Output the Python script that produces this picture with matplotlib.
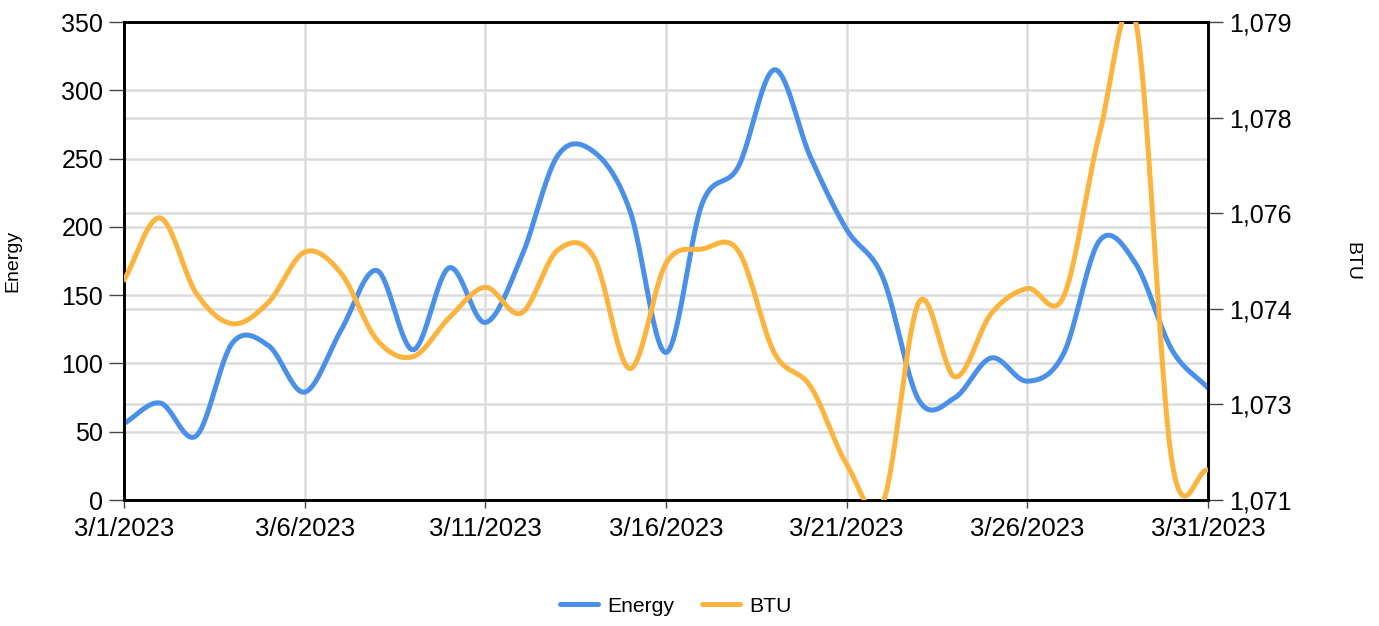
import numpy as np
import pandas as pd
import matplotlib
matplotlib.use("Agg")
import matplotlib.pyplot as plt
import matplotlib.dates as mdates
from matplotlib.ticker import FixedLocator, FixedFormatter, FuncFormatter

plt.rcParams['font.family'] = ['Liberation Sans', 'DejaVu Sans']

dates = pd.date_range("2023-03-01", "2023-03-31", freq="D")
energy = [56, 71, 47, 115, 113, 79, 124, 168, 110, 170,
          130, 178, 252, 255, 212, 108, 217, 244, 315, 251,
          198, 163, 73, 75, 104, 87, 107, 190, 173, 110, 82]
btu = [1074.68, 1075.72, 1074.46, 1073.95, 1074.31, 1075.15, 1074.8, 1073.68, 1073.4, 1074.05,
       1074.56, 1074.13, 1075.18, 1075.07, 1073.2, 1074.96, 1075.2, 1075.17, 1073.46, 1072.9,
       1071.6, 1070.95, 1074.31, 1073.06, 1074.12, 1074.54, 1074.4, 1077.14, 1079.0, 1071.65, 1071.5]

energy_ticks = [0, 50, 100, 150, 200, 250, 300, 350]
btu_tick_labels = ["1,071", "1,073", "1,074", "1,076", "1,078", "1,079"]
btu_min, btu_max = 1071, 1079

BLUE = "#4A90E8"
ORANGE = "#FDB43F"


def catmull_rom(x, y, n=40):
    x = np.asarray(x, float)
    y = np.asarray(y, float)
    m = np.zeros_like(y)
    m[1:-1] = (y[2:] - y[:-2]) / (x[2:] - x[:-2])
    m[0] = (y[1] - y[0]) / (x[1] - x[0])
    m[-1] = (y[-1] - y[-2]) / (x[-1] - x[-2])
    xs, ys = [], []
    for i in range(len(x) - 1):
        h = x[i + 1] - x[i]
        t = np.linspace(0, 1, n, endpoint=False)
        h00 = 2 * t**3 - 3 * t**2 + 1
        h10 = t**3 - 2 * t**2 + t
        h01 = -2 * t**3 + 3 * t**2
        h11 = t**3 - t**2
        xs.append(x[i] + t * h)
        ys.append(h00 * y[i] + h10 * h * m[i] + h01 * y[i + 1] + h11 * h * m[i + 1])
    xs.append([x[-1]])
    ys.append([y[-1]])
    return np.concatenate(xs), np.concatenate(ys)


xnum = mdates.date2num(dates)

fig = plt.figure(figsize=(13.79, 6.26), dpi=100)
ax1 = fig.add_axes([124 / 1379, 1 - 500 / 626, (1208 - 124) / 1379, (500 - 22) / 626])
ax2 = ax1.twinx()

ax1.set_xlim(xnum[0], xnum[-1])
ax1.set_ylim(0, 350)
ax2.set_ylim(btu_min, btu_max)

# gridlines (both axes) on ax1 so they sit under both lines
grid_kw = dict(color="#DCDCDC", lw=1.8, zorder=0)
for v in energy_ticks[1:-1]:
    ax1.axhline(v, **grid_kw)
btu_tick_pos = np.linspace(btu_min, btu_max, len(btu_tick_labels))
for v in btu_tick_pos[1:-1]:
    ax1.axhline((v - btu_min) / (btu_max - btu_min) * 350, **grid_kw)
xt = xnum[::5]
for v in xt[1:-1]:
    ax1.axvline(v, **grid_kw)

sx, sy = catmull_rom(xnum, energy)
l1, = ax1.plot(sx, sy, color=BLUE, lw=3.6, solid_capstyle="round", zorder=3, label="Energy")
bx, by = catmull_rom(xnum, btu)
l2, = ax2.plot(bx, by, color=ORANGE, lw=3.6, solid_capstyle="round", zorder=3, label="BTU")

ax1.yaxis.set_major_locator(FixedLocator(energy_ticks))
ax2.yaxis.set_major_locator(FixedLocator(btu_tick_pos))
ax2.yaxis.set_major_formatter(FixedFormatter(btu_tick_labels))
ax1.xaxis.set_major_locator(FixedLocator(xt))
ax1.xaxis.set_major_formatter(FuncFormatter(
    lambda v, p: "{}/{}/{}".format(mdates.num2date(v).month, mdates.num2date(v).day, mdates.num2date(v).year)))

for ax in (ax1, ax2):
    for s in ax.spines.values():
        s.set_linewidth(1.9)
        s.set_color("black")
ax1.tick_params(axis="y", labelsize=18, length=11, width=1, color="#444444", pad=4)
ax2.tick_params(axis="y", labelsize=18, length=11, width=1, color="#444444", pad=4)
ax1.tick_params(axis="x", labelsize=18.5, length=6, width=1, color="#444444", pad=6)

ax1.set_ylabel("Energy", fontsize=14)
ax2.set_ylabel("BTU", fontsize=14, rotation=270)
ax1.yaxis.set_label_coords(-0.095, 0.5)
ax2.yaxis.set_label_coords(1.141, 0.5)

fig.legend(handles=[l1, l2], loc="center", bbox_to_anchor=(0.490, 1 - 606 / 626), ncol=2,
           frameon=False, fontsize=15.2, handlelength=1.8, columnspacing=1.3, handletextpad=0.45)

fig.savefig("out.png", dpi=100)
